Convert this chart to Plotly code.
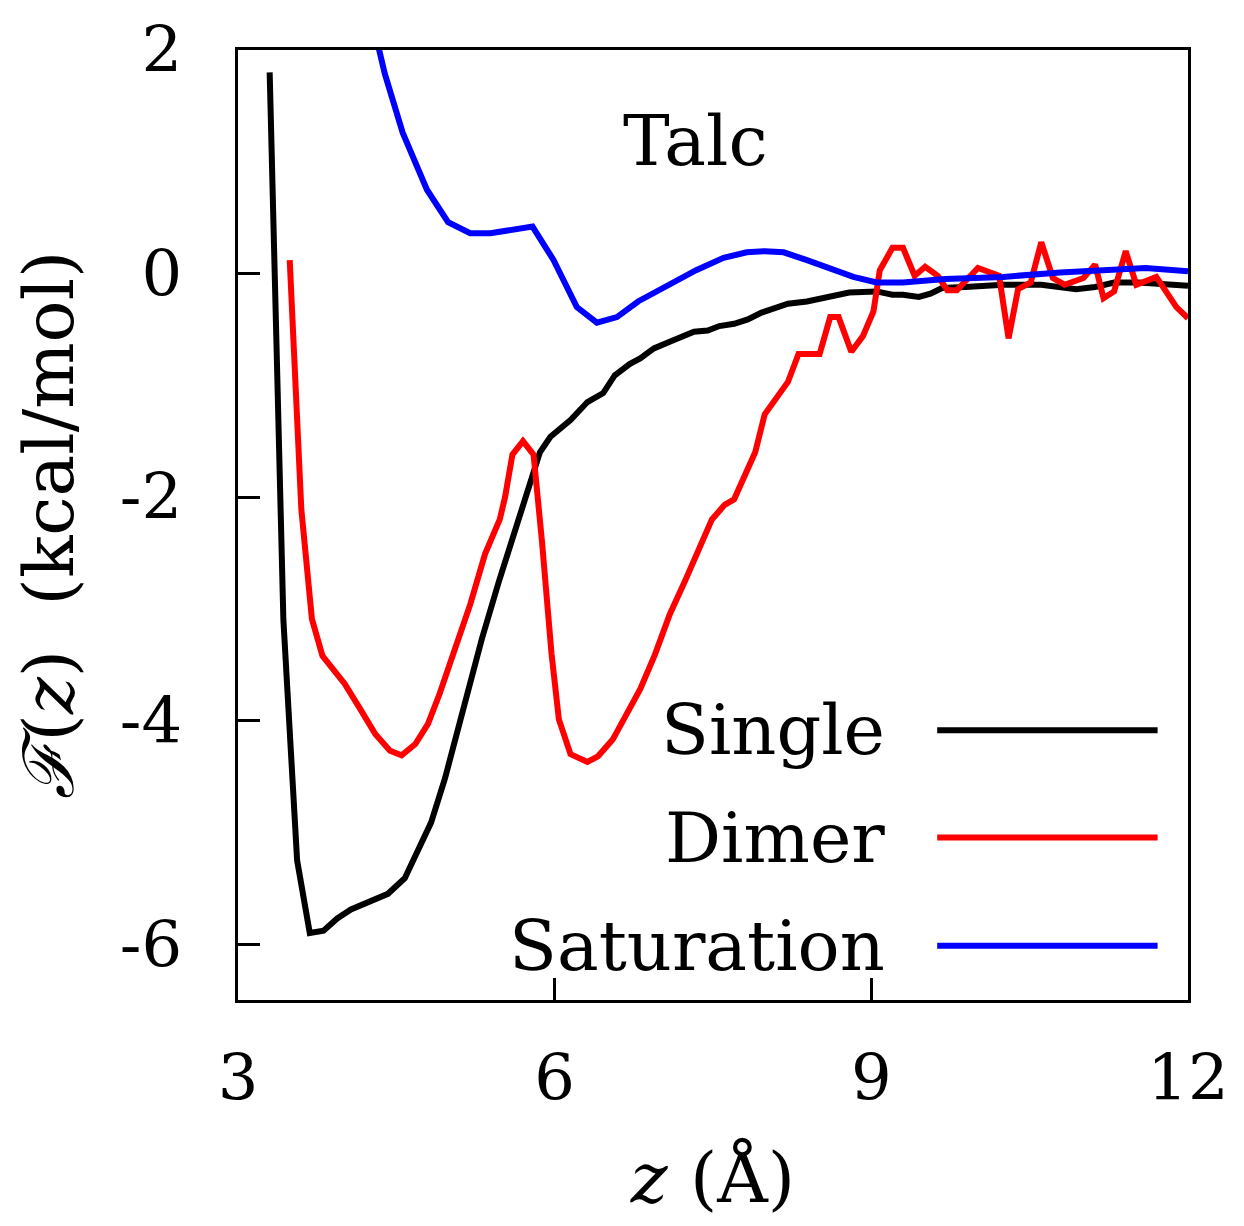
import plotly.graph_objects as go

# ---------------- data ----------------
single_z = [3.30, 3.43, 3.56, 3.68, 3.81, 3.94, 4.07, 4.29, 4.42, 4.58, 4.70, 4.83, 4.96, 5.15,
            5.31, 5.47, 5.63, 5.79, 5.86, 5.96, 6.15, 6.31, 6.46, 6.57, 6.71, 6.81, 6.94, 7.09,
            7.20, 7.32, 7.45, 7.56, 7.70, 7.83, 7.96, 8.11, 8.21, 8.39, 8.61, 8.79, 9.05, 9.20,
            9.30, 9.45, 9.56, 9.67, 9.89, 10.25, 10.61, 10.79, 10.94, 11.12, 11.30, 11.53, 12.0]
single_F = [1.80, -3.10, -5.25, -5.90, -5.88, -5.77, -5.69, -5.61, -5.55, -5.41, -5.18, -4.91, -4.52, -3.85,
            -3.27, -2.76, -2.29, -1.81, -1.60, -1.46, -1.31, -1.15, -1.07, -0.91, -0.81, -0.76, -0.67, -0.61,
            -0.57, -0.52, -0.51, -0.47, -0.45, -0.41, -0.35, -0.31, -0.27, -0.25, -0.21, -0.17, -0.16, -0.19,
            -0.19, -0.21, -0.18, -0.13, -0.12, -0.10, -0.10, -0.12, -0.14, -0.12, -0.08, -0.08, -0.11]

dimer_z = [3.49, 3.60, 3.70, 3.80, 3.90, 4.01, 4.16, 4.30, 4.44, 4.55, 4.68, 4.80, 4.91, 5.06,
           5.20, 5.34, 5.48, 5.53, 5.60, 5.70, 5.80, 5.88, 5.97, 6.04, 6.15, 6.31, 6.41, 6.55,
           6.67, 6.81, 6.95, 7.09, 7.24, 7.38, 7.49, 7.61, 7.70, 7.90, 7.99, 8.21, 8.31, 8.51,
           8.61, 8.69, 8.81, 8.92, 9.02, 9.08, 9.20, 9.30, 9.41, 9.51, 9.63, 9.72, 9.81, 10.01,
           10.21, 10.30, 10.39, 10.51, 10.61, 10.72, 10.83, 11.01, 11.12, 11.20, 11.30, 11.41,
           11.51, 11.70, 11.89, 12.0]
dimer_F = [0.12, -2.11, -3.09, -3.42, -3.54, -3.67, -3.90, -4.12, -4.27, -4.31, -4.21, -4.03, -3.76, -3.36,
           -2.96, -2.51, -2.20, -2.00, -1.62, -1.50, -1.62, -2.40, -3.40, -3.99, -4.30, -4.37, -4.32, -4.17,
           -3.97, -3.72, -3.41, -3.05, -2.74, -2.42, -2.20, -2.07, -2.02, -1.60, -1.26, -0.97, -0.72, -0.72,
           -0.39, -0.39, -0.70, -0.56, -0.34, 0.03, 0.23, 0.23, -0.02, 0.06, -0.02, -0.15, -0.15, 0.05,
           -0.02, -0.58, -0.14, -0.08, 0.28, -0.04, -0.10, -0.04, 0.08, -0.22, -0.16, 0.20,
           -0.10, -0.03, -0.30, -0.40]

sat_z = [4.25, 4.39, 4.56, 4.79, 4.99, 5.20, 5.39, 5.61, 5.79, 5.99, 6.21, 6.40, 6.59, 6.79,
         7.09, 7.34, 7.60, 7.82, 7.99, 8.17, 8.39, 8.61, 8.83, 9.05, 9.30, 9.70, 10.25, 10.79,
         11.16, 11.60, 12.0]
sat_F = [2.35, 1.79, 1.26, 0.75, 0.46, 0.36, 0.36, 0.40, 0.42, 0.12, -0.30, -0.44, -0.39, -0.25,
         -0.10, 0.03, 0.14, 0.19, 0.20, 0.19, 0.12, 0.05, -0.03, -0.08, -0.08, -0.05, -0.03, 0.01,
         0.03, 0.05, 0.02]

series_names = ["Single", "Dimer", "Saturation"]
series_colors = ["#000000", "#ff0000", "#0000ff"]

x_tickvals = [3, 6, 9, 12]
x_ticktext = ["3", "6", "9", "12"]
y_tickvals = [2, 0, -2, -4, -6]
y_ticktext = ["2", "0", "-2", "-4", "-6"]

FONT = "DejaVu Serif"

fig = go.Figure()
for name, zz, ff, col in zip(series_names, [single_z, dimer_z, sat_z], [single_F, dimer_F, sat_F], series_colors):
    fig.add_trace(go.Scatter(x=zz, y=ff, mode="lines", name=name,
                             line=dict(color=col, width=6), showlegend=False))

# manual legend (text left of line sample)
leg_y = [0.284, 0.171, 0.057]
for name, col, yy in zip(series_names, series_colors, leg_y):
    fig.add_annotation(x=0.683, y=yy, xref="paper", yref="paper", text=name,
                       showarrow=False, xanchor="right", yanchor="middle",
                       font=dict(family=FONT, size=70, color="black"))
    fig.add_shape(type="line", xref="paper", yref="paper", x0=0.736, x1=0.968, y0=yy, y1=yy,
                  line=dict(color=col, width=6))

fig.add_annotation(x=7.33, y=1.19, xref="x", yref="y", text="Talc", showarrow=False,
                   font=dict(family=FONT, size=70, color="black"))

axis_common = dict(showline=True, linecolor="black", linewidth=3, mirror=True,
                   ticks="inside", ticklen=22, tickwidth=2.5, tickcolor="black",
                   showgrid=False, zeroline=False,
                   tickfont=dict(family=FONT, size=64, color="black"))

fig.update_xaxes(range=[3, 12], tickvals=x_tickvals, ticktext=x_ticktext,
                 ticklabelstandoff=20,
                 title=dict(text="<i>z</i> (Å)", font=dict(family=FONT, size=70, color="black"), standoff=40),
                 **axis_common)
fig.update_yaxes(range=[-6.5, 2], tickvals=y_tickvals, ticktext=y_ticktext,
                 ticklabelstandoff=40,
                 title=dict(text="<i>ℱ</i>(<i>z</i>)  (kcal/mol)", font=dict(family=FONT, size=70, color="black"), standoff=24),
                 **axis_common)

# page body has an 8px default margin; compensate so the plot area lands where the reference has it
fig.update_layout(width=1244, height=1226, plot_bgcolor="white", paper_bgcolor="white",
                  margin=dict(l=230, r=64, t=42, b=234, autoexpand=False),
                  showlegend=False)

fig.write_html("out.html")
